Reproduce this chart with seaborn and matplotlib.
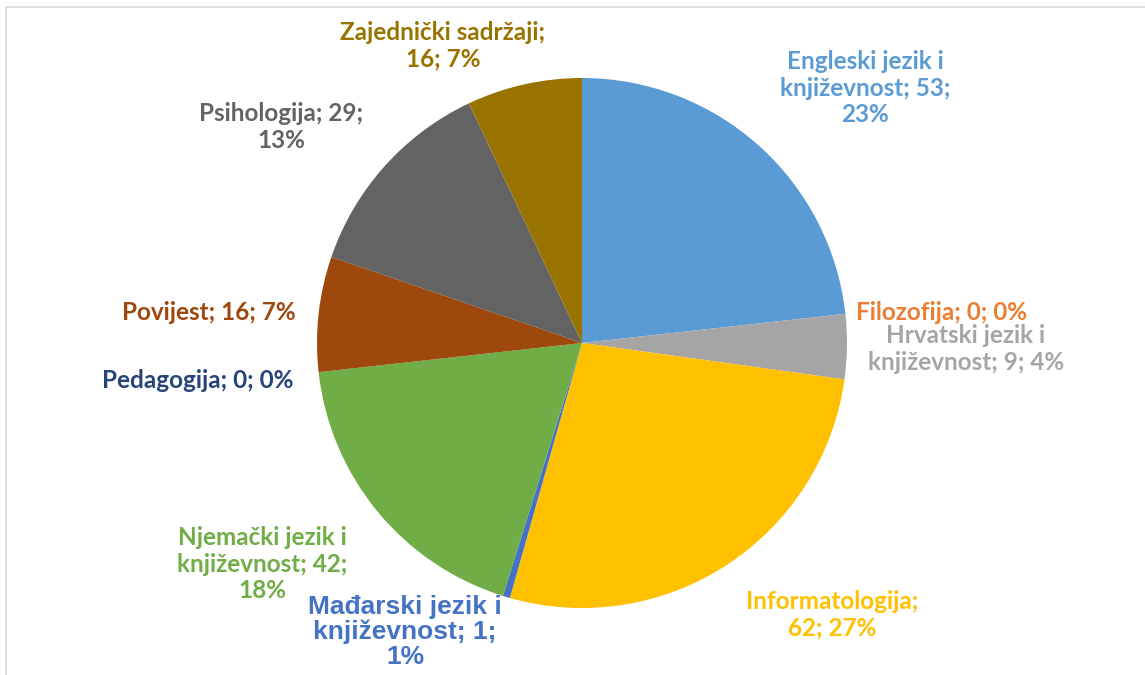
import seaborn as sns
import matplotlib.pyplot as plt
from matplotlib.lines import Line2D

# data, clockwise from 12 o'clock
subjects = ["Engleski jezik i\nknjiževnost", "Filozofija", "Hrvatski jezik i\nknjiževnost",
            "Informatologija", "Mađarski jezik i\nknjiževnost", "Njemački jezik i\nknjiževnost",
            "Pedagogija", "Povijest", "Psihologija", "Zajednički sadržaji"]
counts = [53, 0, 9, 62, 1, 42, 0, 16, 29, 16]
percents = ["23%", "0%", "4%", "27%", "1%", "18%", "0%", "7%", "13%", "7%"]
label_texts = [
    "Engleski jezik i\nknjiževnost; 53;\n23%",
    "Filozofija; 0; 0%",
    "Hrvatski jezik i\nknjiževnost; 9; 4%",
    "Informatologija;\n62; 27%",
    "Mađarski jezik i\nknjiževnost; 1;\n1%",
    "Njemački jezik i\nknjiževnost; 42;\n18%",
    "Pedagogija; 0; 0%",
    "Povijest; 16; 7%",
    "Psihologija; 29;\n13%",
    "Zajednički sadržaji;\n16; 7%",
]
colors = ["#5B9BD5", "#ED7D31", "#A5A5A5", "#FFC000", "#4472C4",
          "#70AD47", "#264478", "#9E480E", "#636363", "#997300"]

# label centres in pixels (x, y from top)
label_pos = [(865, 88), (942, 312), (966, 349), (832, 615), (405, 632),
             (262, 564), (198, 380), (209, 312), (281, 127), (443, 46)]

sns.set_style("white")
plt.rcParams['font.family'] = ['Lato', 'DejaVu Sans']

W, H = 1145, 675
fig = plt.figure(figsize=(W / 100, H / 100), dpi=100)
ax = fig.add_axes([0, 0, 1, 1])
ax.pie(counts, colors=colors, startangle=90, counterclock=False,
       center=(582, H - 343), radius=265, wedgeprops=dict(linewidth=0))
ax.set_xlim(0, W)
ax.set_ylim(0, H)
ax.set_aspect('equal')
ax.axis('off')

for i, (txt, (x, y)) in enumerate(zip(label_texts, label_pos)):
    if i == 4:
        ax.text(x, H - y, txt, color=colors[i], ha='center', va='center',
                fontsize=19, fontweight='bold', family=['Liberation Sans', 'DejaVu Sans'],
                linespacing=1.05)
    else:
        ax.text(x, H - y, txt, color=colors[i], ha='center', va='center',
                fontsize=17.5, fontweight='bold', linespacing=1.2)

# frame lines (top and left)
fig.add_artist(Line2D([6 / W, 1], [1 - 7 / H, 1 - 7 / H], color='#d9d9d9', lw=1.2))
fig.add_artist(Line2D([6 / W, 6 / W], [0, 1 - 7 / H], color='#d9d9d9', lw=1.2))

plt.savefig("out.png", dpi=100)
